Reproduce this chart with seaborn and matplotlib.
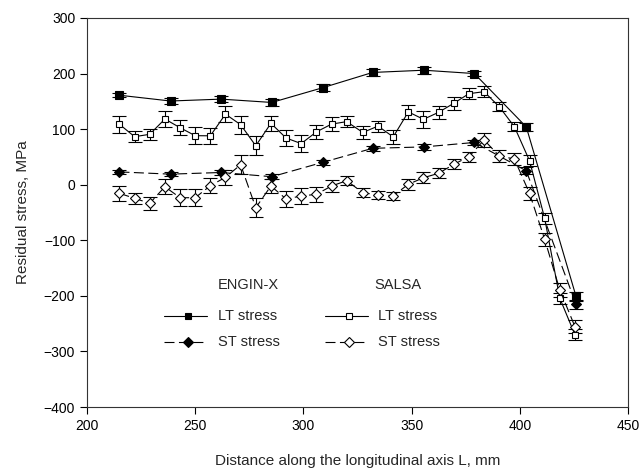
import numpy as np
import pandas as pd
import matplotlib
matplotlib.use("Agg")
import matplotlib.pyplot as plt
import seaborn as sns
from matplotlib.lines import Line2D

# ---------------- data ----------------
engin_x = [215, 238.6, 262, 285.4, 309, 332, 355.7, 379, 403, 426]
engin_lt = [161, 150.6, 154, 148, 174.6, 202, 206, 200, 104, -201]
engin_lt_err = [4, 5, 6, 6, 6, 6, 6, 5, 7, 8]
engin_st = [23, 19, 22, 14.4, 40.3, 65.5, 68, 76, 25, -215]
engin_st_err = [4, 4, 5, 5, 5, 5, 5, 5, 6, 8]

salsa_x = [215, 222, 229, 236, 243, 250, 257, 264, 271, 278, 285, 292, 299,
           306, 313, 320, 327.5, 334.5, 341.5, 348.5, 355.5, 362.5, 369.5,
           376.5, 383.5, 390.5, 397.5, 404.5, 411.5, 418.5, 425.5]
salsa_lt = [108.7, 86.4, 90.7, 118.2, 102.6, 88.2, 88, 127, 108, 70, 110.5,
            84, 74, 95, 109, 113.5, 94, 105.5, 86, 131, 117.7, 130.3, 146.5,
            163.8, 167.4, 140.4, 104.4, 43.2, -60.4, -204.4, -270]
salsa_lt_err = [15, 10, 10, 14, 14, 15, 14, 15, 16, 17, 13, 14, 15, 12, 12,
                10, 12, 10, 12, 12, 15, 12, 12, 10, 10, 8, 8, 10, 10, 10, 10]
salsa_st = [-15.5, -24.5, -33.5, -3.6, -23.4, -23.4, -1.8, 13.3, 36, -41.4,
            -2.3, -25.7, -20.3, -17.3, -2.3, 7.2, -14.4, -18.5, -19.8, 0.7,
            12.6, 20.5, 36.7, 50.4, 80.5, 51.7, 46.3, -15.5, -98.3, -189.4,
            -255.5]
salsa_st_err = [13, 10, 12, 13, 15, 15, 14, 13, 17, 17, 13, 14, 15, 14, 10,
                8, 8, 7, 7, 10, 10, 9, 9, 9, 12, 10, 10, 12, 12, 12, 12]

x_ticks = [200, 250, 300, 350, 400, 450]
y_ticks = [-400, -300, -200, -100, 0, 100, 200, 300]

# ---------------- style ----------------
sns.set_style("ticks")
plt.rcParams["font.family"] = ["Liberation Sans", "DejaVu Sans"]

fig = plt.figure(figsize=(6.41, 4.72), dpi=100)
ax = fig.add_axes([0.1357, 0.1377, 0.844, 0.8242])

lw = 0.8
dash = (0, (9, 4))

series = [
    (engin_x, engin_lt, engin_lt_err, "s", "black", "-", 5.2),
    (engin_x, engin_st, engin_st_err, "D", "black", dash, 4.8),
    (salsa_x, salsa_lt, salsa_lt_err, "s", "white", "-", 4.6),
    (salsa_x, salsa_st, salsa_st_err, "D", "white", dash, 4.6),
]

for xs, ys, es, mk, fc, ls, ms in series:
    df = pd.DataFrame({"x": xs, "y": ys})
    ax.errorbar(xs, ys, yerr=es, fmt="none", ecolor="black", elinewidth=lw,
                capsize=4.8, capthick=lw, zorder=2)
    sns.lineplot(data=df, x="x", y="y", ax=ax, color="black", linewidth=lw,
                 linestyle=ls, marker=mk, markersize=ms,
                 markerfacecolor=fc, markeredgecolor="black",
                 markeredgewidth=0.8, sort=False, zorder=3)

ax.set_xlim(200, 450)
ax.set_ylim(-400, 300)
ax.set_xticks(x_ticks)
ax.set_yticks(y_ticks)
ax.tick_params(axis="both", direction="out", length=5, width=0.8,
               labelsize=10, top=False, right=False, colors="black")
for s in ax.spines.values():
    s.set_visible(True)
    s.set_linewidth(0.8)
    s.set_color("#333333")

ax.set_xlabel("Distance along the longitudinal axis L, mm", fontsize=11)
ax.set_ylabel("Residual stress, MPa", fontsize=11)
ax.xaxis.set_label_coords(0.5, -0.122)
ax.yaxis.set_label_coords(-0.106, 0.5)

# ---------------- custom legend ----------------
tr = ax.transAxes
fs = 10.5
ax.text(0.298, 0.314, "ENGIN-X", transform=tr, ha="center", va="center", fontsize=fs)
ax.text(0.575, 0.314, "SALSA", transform=tr, ha="center", va="center", fontsize=fs)

legend_rows = [
    (0.234, "s", "black", "-", "LT stress", "s", "white", "-"),
    (0.167, "D", "black", dash, "ST stress", "D", "white", dash),
]
for yy, mk1, fc1, ls1, lab, mk2, fc2, ls2 in legend_rows:
    ax.add_line(Line2D([0.142, 0.222], [yy, yy], transform=tr, color="black",
                       linewidth=lw, linestyle=ls1))
    ax.add_line(Line2D([0.187], [yy], transform=tr, marker=mk1, markersize=4.6,
                       markerfacecolor=fc1, markeredgecolor="black",
                       markeredgewidth=0.8, linestyle="none"))
    ax.text(0.242, yy, lab, transform=tr, ha="left", va="center", fontsize=fs)
    ax.add_line(Line2D([0.440, 0.519], [yy, yy], transform=tr, color="black",
                       linewidth=lw, linestyle=ls2))
    ax.add_line(Line2D([0.485], [yy], transform=tr, marker=mk2, markersize=4.6,
                       markerfacecolor=fc2, markeredgecolor="black",
                       markeredgewidth=0.8, linestyle="none"))
    ax.text(0.538, yy, lab, transform=tr, ha="left", va="center", fontsize=fs)

fig.savefig("out.png", dpi=100)
